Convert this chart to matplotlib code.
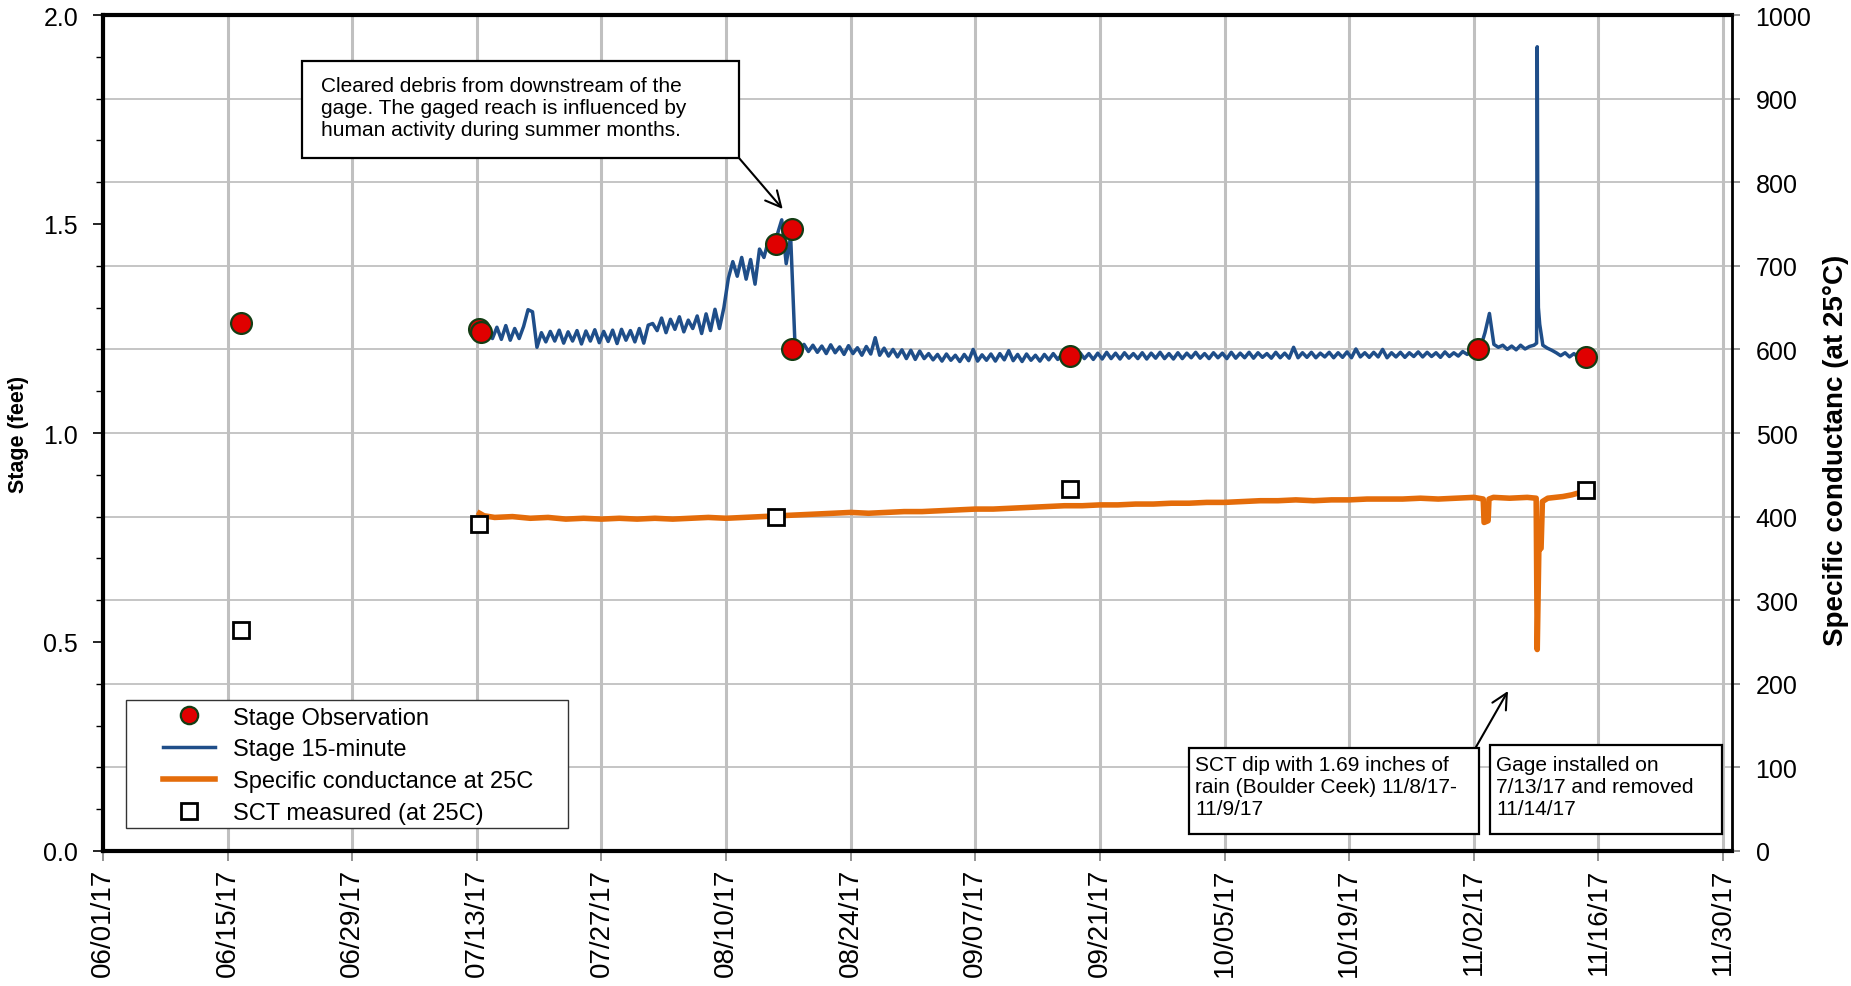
import numpy as np
import pandas as pd
import matplotlib
matplotlib.use("Agg")
import matplotlib.pyplot as plt
import matplotlib.dates as mdates
from matplotlib.ticker import MultipleLocator, FormatStrFormatter
from matplotlib.patches import Rectangle

plt.rcParams['font.family'] = ['Liberation Sans', 'DejaVu Sans']

# ---------------- data ----------------
# Stage observations (feet)
obs_time = ['2017-06-16 12:00', '2017-07-13 07:00', '2017-07-13 10:00',
            '2017-08-15 14:00', '2017-08-17 10:00', '2017-08-17 10:00',
            '2017-09-17 14:00', '2017-11-02 12:00', '2017-11-14 14:00']
obs_ft = [1.264, 1.250, 1.242, 1.451, 1.488, 1.202, 1.185, 1.200, 1.183]

# SCT measured (uS/cm at 25C)
sct_time = ['2017-06-16 12:00', '2017-07-13 07:00', '2017-08-15 14:00',
            '2017-09-17 14:00', '2017-11-14 14:00']
sct_val = [264, 391, 399, 433, 432]

# Stage 15-minute record, read every half day starting 2017-07-13 06:00
stage_start = '2017-07-13 06:00'
stage_ft = [
    1.250, 1.232, 1.255, 1.226, 1.253, 1.224, 1.257, 1.222, 1.250, 1.226, 1.255,
    1.295, 1.290, 1.205,
    1.240, 1.218, 1.243, 1.220, 1.246, 1.215, 1.242, 1.220, 1.245, 1.213,
    1.244, 1.220, 1.247, 1.216, 1.243, 1.219, 1.246, 1.214, 1.248, 1.222,
    1.245, 1.218, 1.250, 1.215, 1.258,
    1.262, 1.245, 1.275, 1.240, 1.272, 1.248, 1.278, 1.242, 1.270, 1.250,
    1.280, 1.238, 1.285, 1.245, 1.296, 1.250, 1.300,
    1.370, 1.410, 1.375, 1.420, 1.368, 1.415, 1.356, 1.440, 1.420, 1.460,
    1.440, 1.475, 1.510, 1.405, 1.470,
    1.205, 1.200, 1.212, 1.195, 1.210, 1.193, 1.208, 1.190, 1.211, 1.192,
    1.206, 1.188, 1.209, 1.190, 1.204, 1.186, 1.207, 1.189, 1.228, 1.186,
    1.203, 1.184, 1.200, 1.182, 1.199, 1.178, 1.198, 1.176, 1.196, 1.178,
    1.190, 1.175, 1.188, 1.172, 1.189, 1.174, 1.186, 1.171, 1.188, 1.173, 1.200, 1.172, 1.187, 1.174,
    1.189, 1.172, 1.190, 1.175, 1.197, 1.173, 1.188, 1.171, 1.189, 1.174, 1.186, 1.172, 1.188, 1.175,
    1.190, 1.176, 1.189, 1.177, 1.191, 1.175, 1.192, 1.178, 1.190, 1.176, 1.191, 1.177, 1.193, 1.178,
    1.191, 1.177, 1.192, 1.179, 1.190, 1.178, 1.192, 1.177, 1.191, 1.179, 1.193, 1.178, 1.190, 1.177,
    1.192, 1.178, 1.191, 1.180, 1.193, 1.179, 1.190, 1.178, 1.192, 1.180, 1.191, 1.178, 1.193, 1.179,
    1.191, 1.180, 1.193, 1.179, 1.192, 1.181, 1.190, 1.179, 1.193, 1.180, 1.191, 1.179, 1.205, 1.180,
    1.192, 1.181, 1.193, 1.180, 1.191, 1.182, 1.193, 1.180, 1.192, 1.181, 1.194, 1.180, 1.201, 1.182,
    1.192, 1.181, 1.193, 1.182, 1.200, 1.180, 1.192, 1.182, 1.193, 1.181, 1.192, 1.183, 1.194, 1.182,
    1.193, 1.183, 1.192, 1.181, 1.194, 1.183, 1.192, 1.184, 1.195, 1.188,
    1.196, 1.200, 1.205, 1.240, 1.286, 1.212, 1.205, 1.210, 1.200, 1.208,
    1.199, 1.210, 1.201, 1.207, 1.210, 1.300, 1.210, 1.203, 1.198, 1.192,
    1.185, 1.192, 1.182, 1.190, 1.180, 1.188, 1.180,
]
# extra readings of the storm peak of 11/9 (days after 2017-06-01)
storm_day = [161.05, 161.12, 161.2, 161.4]
storm_ft = [1.215, 1.924, 1.420, 1.260]

# Specific conductance record (days after 2017-06-01, uS/cm)
cond_day = [42.3, 42.8, 44, 46, 48, 50, 52, 54, 56, 58, 60, 62, 64, 66, 68, 70,
            72, 74, 76, 78, 80, 82, 84, 86, 88, 90, 92, 94, 96, 98, 100, 102,
            104, 106, 108, 110, 112, 114, 116, 118, 120, 122, 124, 126, 128,
            130, 132, 134, 136, 138, 140, 142, 144, 146, 148, 150, 152, 154,
            155.05, 155.15, 155.6, 155.7, 156.2, 158, 160, 161.0, 161.12, 161.3,
            161.55, 161.7, 162.3, 164, 165, 166, 166.6]
cond_val = [404, 401, 399, 400, 398, 399, 397, 398, 397, 398, 397, 398, 397,
            398, 399, 398, 399, 400, 401, 402, 403, 404, 405, 404, 405, 406,
            406, 407, 408, 409, 409, 410, 411, 412, 413, 413, 414, 414, 415,
            415, 416, 416, 417, 417, 418, 419, 419, 420, 419, 420, 420, 421,
            421, 421, 422, 421, 422, 423, 421, 393, 395, 421, 423, 422, 423,
            422, 241, 360, 362, 418, 422, 424, 426, 429, 428]

x_start = '2017-06-01'
x_end = '2017-12-01'
tick_every_days = 14

labels = ['Stage Observation', 'Stage 15-minute',
          'Specific conductance at 25C', 'SCT measured (at 25C)']

# ---------------- figure ----------------
W, H = 1851, 987
fig = plt.figure(figsize=(W / 100, H / 100), dpi=100)
ax = fig.add_axes([103 / W, 1 - 852 / H, (1732 - 103) / W, (852 - 16) / H])
ax2 = ax.twinx()

BLUE = '#1f4e89'
ORANGE = '#e46c0a'
GRID = '#c0c0c0'

base = pd.Timestamp(x_start)
stage_t = pd.date_range(stage_start, periods=len(stage_ft), freq='12h')
stage = pd.Series(stage_ft, index=stage_t)
storm = pd.Series(storm_ft, index=base + pd.to_timedelta(storm_day, unit='D'))
stage = pd.concat([stage, storm]).sort_index()
cond_t = base + pd.to_timedelta(cond_day, unit='D')
obs_t = pd.to_datetime(obs_time)
sct_t = pd.to_datetime(sct_time)

# grid (drawn on the base axes)
ticks = pd.date_range(x_start, x_end, freq=f'{tick_every_days}D')
for t in ticks:
    ax.axvline(t, color=GRID, lw=2.2, zorder=0)
for v in np.arange(0.2, 2.0, 0.2):
    ax.axhline(v, color=GRID, lw=1.3, zorder=0)

h2, = ax.plot(stage.index, stage.values, color=BLUE, lw=2.5, zorder=3)
h1, = ax.plot(obs_t, obs_ft, 'o', ms=15, mfc='#e00000', mec='#143d14',
              mew=1.6, zorder=5, linestyle='none')
h3, = ax2.plot(cond_t, cond_val, color=ORANGE, lw=4.0, zorder=3)
h4, = ax2.plot(sct_t, sct_val, 's', ms=11, mfc='white', mec='black', mew=2.0,
               zorder=5, linestyle='none')

ax.set_xlim(pd.Timestamp(x_start), pd.Timestamp(x_end))
ax.set_ylim(0, 2.0)
ax2.set_ylim(0, 1000)

ax.set_xticks(ticks)
ax.xaxis.set_major_formatter(mdates.DateFormatter('%m/%d/%y'))
ax.set_yticks(np.arange(0, 2.01, 0.5))
ax.yaxis.set_major_formatter(FormatStrFormatter('%.1f'))
ax.yaxis.set_minor_locator(MultipleLocator(0.1))
ax2.set_yticks(np.arange(0, 1001, 100))

ax.tick_params(axis='x', labelsize=20, rotation=90, length=7, pad=5,
               color='#808080', width=1.2)
ax.tick_params(axis='y', which='major', labelsize=18, length=7, pad=11, width=1.2)
ax.tick_params(axis='y', which='minor', length=5, width=1.0)
ax2.tick_params(axis='y', labelsize=18, length=6, pad=11, color='#808080', width=1.2)

for s in ['left', 'top', 'bottom']:
    ax.spines[s].set_linewidth(3.0)
ax.spines['right'].set_visible(False)
for s in ['left', 'top', 'bottom']:
    ax2.spines[s].set_visible(False)
ax2.spines['right'].set_linewidth(2.0)

ax.set_ylabel('Stage (feet)', fontsize=15.5, fontweight='bold',
              va='center', ha='center')
ax.yaxis.set_label_coords((19 - 103) / 1629, 0.5)
ax2.set_ylabel('Specific conductanc (at 25°C)', fontsize=20, fontweight='bold',
               rotation=90, va='center', ha='center')
ax2.yaxis.set_label_coords((1836 - 103) / 1629, 0.48)

# legend: frame drawn separately, content placed inside
fig.add_artist(Rectangle((125.7 / W, 1 - 829 / H), (567.7 - 125.7) / W,
                         (829 - 700.7) / H, transform=fig.transFigure,
                         facecolor='white', edgecolor='#333333', lw=1.0,
                         zorder=1.5))
leg = fig.legend([h1, h2, h3, h4], labels, loc='upper left',
                 bbox_to_anchor=(162.7 / W, 1 - 707.5 / H),
                 bbox_transform=fig.transFigure, fontsize=17,
                 frameon=False, handlelength=2.2, handletextpad=0.76,
                 borderpad=0, labelspacing=0.42, borderaxespad=0)
leg.set_zorder(20)
leg.legend_handles[0].set_markersize(12.5)
leg.legend_handles[3].set_markersize(11)

# ---------------- annotations ----------------
def box(x0, y0, x1, y1):
    r = Rectangle((x0 / W, 1 - y1 / H), (x1 - x0) / W, (y1 - y0) / H,
                  transform=fig.transFigure, facecolor='white',
                  edgecolor='black', lw=1.6, zorder=10)
    fig.add_artist(r)

def btext(x, y, s):
    fig.text(x / W, 1 - y / H, s, fontsize=15, ha='left', va='top',
             linespacing=1.2, zorder=11)

def arrow(x0, y0, x1, y1):
    ax2.annotate('', xy=(x1, H - y1), xytext=(x0, H - y0),
                 xycoords='figure pixels', textcoords='figure pixels',
                 arrowprops=dict(arrowstyle='->', lw=1.5, color='black',
                                 mutation_scale=28, shrinkA=0, shrinkB=0),
                 zorder=12)

box(301.7, 62.3, 739, 159)
btext(320.7, 76.5, 'Cleared debris from downstream of the\n'
                   'gage. The gaged reach is influenced by\n'
                   'human activity during summer months.')
arrow(739, 159, 782.7, 210)

box(1188.6, 748.6, 1479, 835)
btext(1195, 756, 'SCT dip with 1.69 inches of\nrain (Boulder Ceek) 11/8/17-\n11/9/17')
arrow(1476, 748, 1508, 692)

box(1489.6, 746, 1722, 835)
btext(1496, 756, 'Gage installed on\n7/13/17 and removed\n11/14/17')

fig.savefig('out.png', dpi=100)
